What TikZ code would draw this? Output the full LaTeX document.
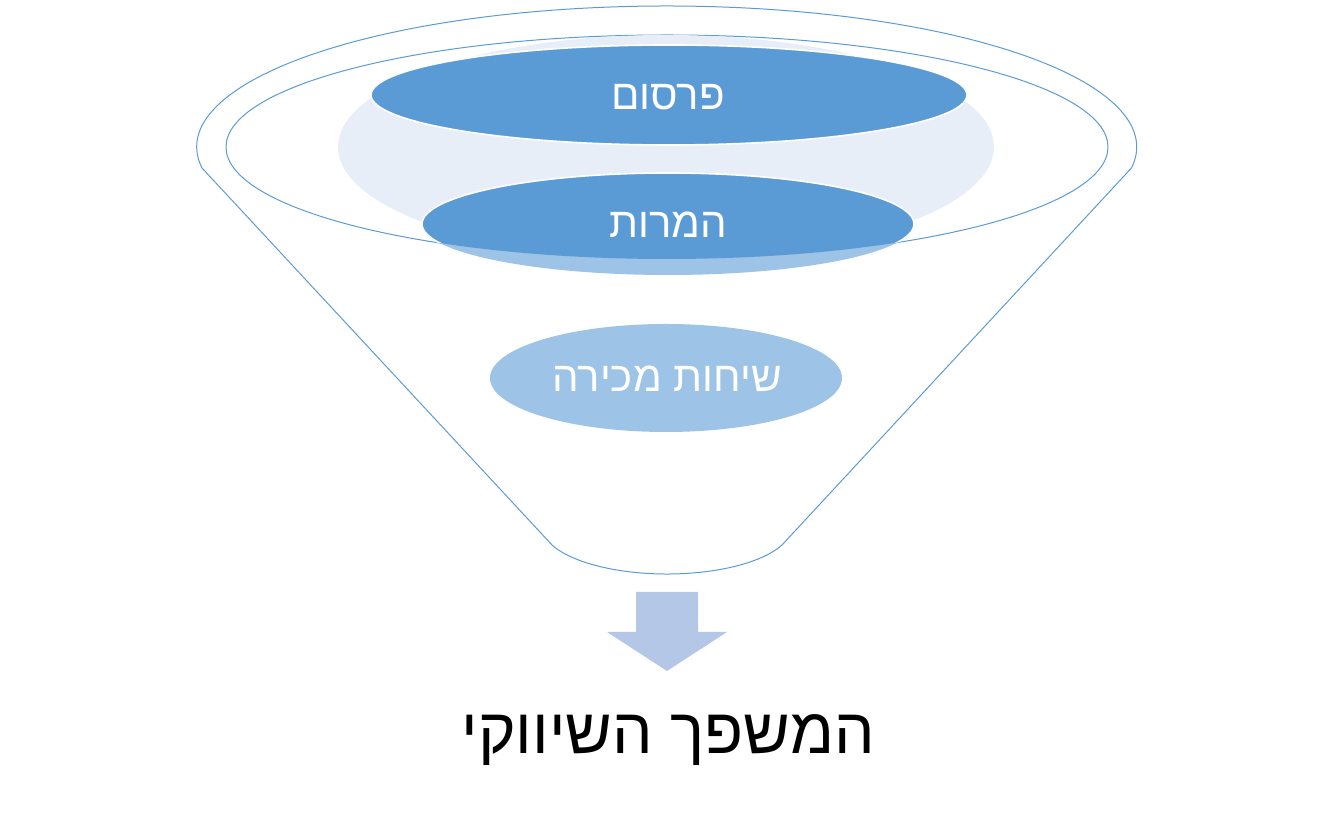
\documentclass[tikz,border=0pt]{standalone}
\usepackage{fontspec}
\newfontfamily\hebfont[Script=Hebrew]{Liberation Sans}
\TeXXeTstate=1
\definecolor{funblue}{HTML}{5B9BD5}
\definecolor{funlight}{HTML}{9DC3E6}
\definecolor{funpale}{HTML}{E8EEF8}
\definecolor{arrowblue}{HTML}{B4C7E7}
\tikzset{
  outline/.style={draw=funblue, line width=0.75pt},
  lbl/.style={text=white, font=\hebfont\fontsize{31.5}{36}\selectfont, anchor=base, inner sep=0pt},
  ttl/.style={text=black, font=\hebfont\fontsize{48}{56}\selectfont, anchor=base, inner sep=0pt},
}
\begin{document}
\begin{tikzpicture}[x=0.75pt,y=0.75pt]
\useasboundingbox (0,0) rectangle (1334,813);
% funnel body
\draw[outline] (202,645) arc[start angle=188.57, end angle=-8.57, x radius=470, y radius=141]
  -- (782,268) arc[start angle=-23.07, end angle=-156.93, x radius=125, y radius=47.7]
  -- cycle;
% inner rim
\draw[outline] (667,666) ellipse [x radius=441, y radius=112];
% pale disc
\fill[funpale] (666,666) ellipse [x radius=328, y radius=112];
% conversions ellipse: lighter outside rim, darker inside
\fill[funlight] (668,589) ellipse [x radius=246, y radius=51];
\begin{scope}
  \clip (667,666) ellipse [x radius=441, y radius=112];
  \filldraw[fill=funblue, draw=white, line width=1.2pt] (668,589) ellipse [x radius=246, y radius=51];
\end{scope}
% advertising ellipse
\filldraw[fill=funblue, draw=white, line width=1.2pt] (669,718) ellipse [x radius=298, y radius=50];
% sales calls ellipse
\fill[funlight] (666,435) ellipse [x radius=176, y radius=54];
% labels
\node[lbl] (adv) at (668,703) {\beginR פרסום\endR};
\node[lbl] (conv) at (668,575) {\beginR המרות\endR};
\node[lbl] (sales) at (667,421) {\beginR שיחות מכירה\endR};
% arrow
\fill[arrowblue] (636,221) -- (698,221) -- (698,181) -- (727,181) -- (667,142) -- (607,181) -- (636,181) -- cycle;
% title
\node[ttl] (title) at (668,59) {\beginR המשפך השיווקי\endR};
\end{tikzpicture}
\end{document}
